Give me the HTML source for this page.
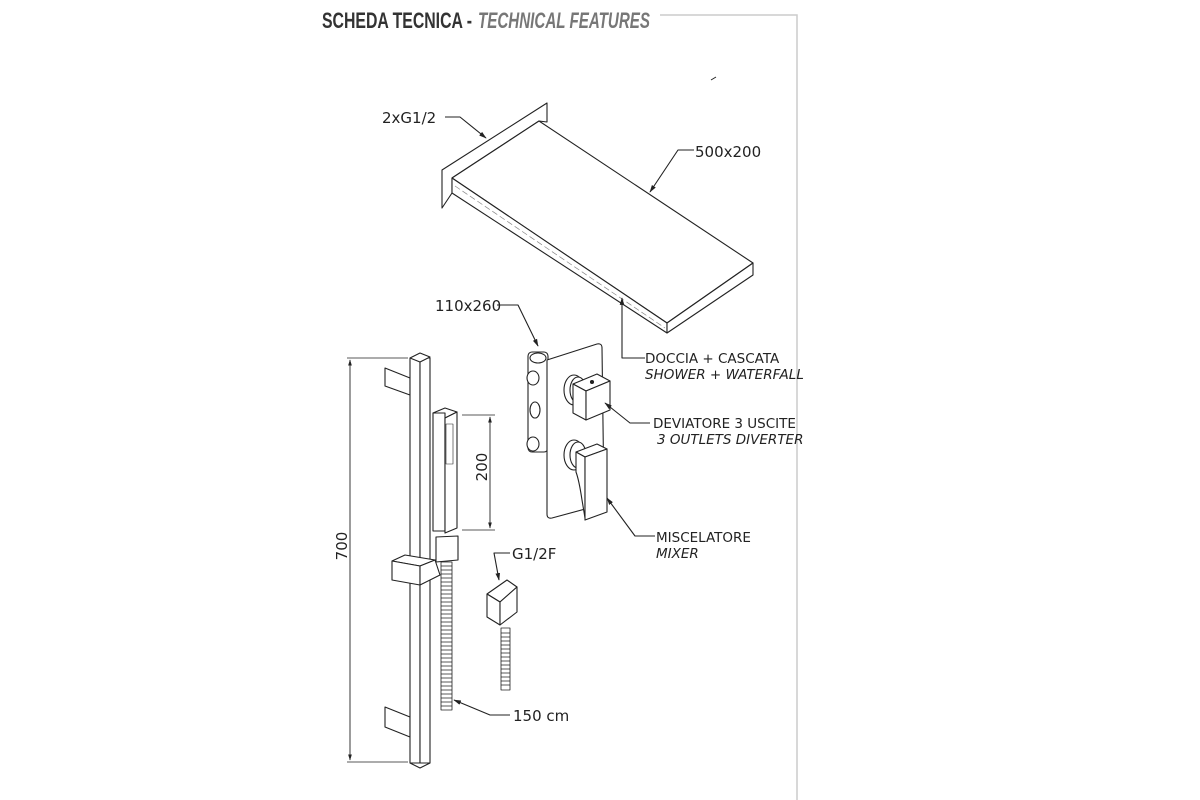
<!DOCTYPE html>
<html><head><meta charset="utf-8"><style>
html,body{margin:0;padding:0;background:#fff;width:1200px;height:800px;overflow:hidden}
svg{display:block}
text{font-family:"DejaVu Sans","Liberation Sans",sans-serif;fill:#222}
</style></head><body>
<svg width="1200" height="800" viewBox="0 0 1200 800" xmlns="http://www.w3.org/2000/svg">
<defs><marker id="a" viewBox="0 0 10 10" refX="9" refY="5" markerWidth="7" markerHeight="7" orient="auto-start-reverse"><path d="M0,2 L10,5 L0,8 z" fill="#222"/></marker></defs>
<!-- header -->
<text x="322" y="28" style="font-family:'Liberation Sans Narrow','Liberation Sans',sans-serif;font-weight:bold;font-size:22px;fill:#333" textLength="150" lengthAdjust="spacingAndGlyphs">SCHEDA TECNICA -</text>
<text x="478" y="28" style="font-family:'Liberation Sans Narrow','Liberation Sans',sans-serif;font-weight:bold;font-style:italic;font-size:22px;fill:#777" textLength="172" lengthAdjust="spacingAndGlyphs">TECHNICAL FEATURES</text>
<polyline points="660,15 797,15 797,800" fill="none" stroke="#ccc" stroke-width="1.5"/>
<g fill="none" stroke="#222" stroke-width="1.1" stroke-linejoin="round">
<!-- waterfall -->
<polygon points="442,170 547,103 547,122 539,121 452,178 452,193 442,208" fill="#fff"/>
<polygon points="452,178 539,121 753,263 667,323" fill="#fff"/>
<polygon points="452,178 667,323 667,333 452,193" fill="#fff"/>
<polygon points="667,323 753,263 753,275 667,333" fill="#fff"/>
<line x1="455" y1="186" x2="665" y2="328" stroke="#888" stroke-dasharray="6,3" stroke-width="0.7"/>
<line x1="711" y1="80" x2="716" y2="77" stroke-width="1"/>
<!-- leaders top -->
<polyline points="445,117 460,117 486,138" marker-end="url(#a)"/>
<polyline points="694,150 678,150 650,192" marker-end="url(#a)"/>
<polyline points="497,305 518,305 538,346" marker-end="url(#a)"/>
<polyline points="645,358 622,358 622,298" marker-end="url(#a)"/>
<!-- mixer valve body -->
<rect x="528" y="352" width="20" height="100" rx="4" fill="#fff"/>
<ellipse cx="538" cy="358" rx="8" ry="5" fill="#fff"/>
<ellipse cx="533" cy="378" rx="6" ry="7" fill="#fff"/>
<ellipse cx="533" cy="444" rx="6" ry="7" fill="#fff"/>
<ellipse cx="535" cy="410" rx="5" ry="8" fill="#fff"/>
<path d="M547,360 L597,344 Q602,343 602,348 L604,500 Q604,504 600,505 L552,518 Q547,519 547,514 Z" fill="#fff"/>
<ellipse cx="574" cy="390" rx="10" ry="15" fill="#fff"/>
<ellipse cx="578" cy="390" rx="8" ry="13" fill="#fff"/>
<polygon points="573,384 597,374 610,381 586,391" fill="#fff"/>
<polygon points="573,384 586,391 586,420 573,413" fill="#fff"/>
<polygon points="586,391 610,381 610,410 586,420" fill="#fff"/>
<circle cx="592" cy="382" r="1.5" fill="#222"/>
<ellipse cx="574" cy="455" rx="10" ry="15" fill="#fff"/>
<ellipse cx="578" cy="455" rx="8" ry="13" fill="#fff"/>
<path d="M576,452 L597,444 L607,449 L585,457 Z" fill="#fff"/>
<path d="M576,452 L585,457 L585,518 L582,500 Q579,480 576,472 Z" fill="#fff"/>
<path d="M585,457 L607,449 L607,512 L585,520 Z" fill="#fff"/>
<polyline points="650,423 630,423 605,403" marker-end="url(#a)"/>
<polyline points="655,536 635,536 607,498" marker-end="url(#a)"/>
<!-- slide bar -->
<polygon points="385,368 410,378 410,395 385,386" fill="#fff"/>
<polygon points="385,707 410,717 410,737 385,727" fill="#fff"/>
<rect x="410" y="358" width="10" height="405" fill="#fff"/>
<rect x="420" y="358" width="10" height="405" fill="#fff"/>
<polygon points="410,358 420,353 430,357 420,362" fill="#fff"/>
<polygon points="410,763 420,768 430,763" fill="#fff"/>
<polygon points="392,561 405,555 435,560 420,566" fill="#fff"/>
<polygon points="392,561 420,566 420,585 392,580" fill="#fff"/>
<polygon points="420,566 435,560 440,575 420,585" fill="#fff"/>
<!-- hand shower -->
<polygon points="433,413 445,408 457,412 445,418" fill="#fff"/>
<rect x="433" y="413" width="12" height="118" fill="#fff"/>
<polygon points="445,418 457,412 457,528 445,533" fill="#fff"/>
<rect x="446" y="424" width="7" height="40" stroke-width="0.6"/>
<path d="M436,537 L458,536 L458,560 L436,562 Z" fill="#fff"/>
<rect x="441" y="562" width="11" height="148" stroke-width="0.8" fill="#fff"/>
<path d="M441,566 h11 M441,570 h11 M441,574 h11 M441,578 h11 M441,582 h11 M441,586 h11 M441,590 h11 M441,594 h11 M441,598 h11 M441,602 h11 M441,606 h11 M441,610 h11 M441,614 h11 M441,618 h11 M441,622 h11 M441,626 h11 M441,630 h11 M441,634 h11 M441,638 h11 M441,642 h11 M441,646 h11 M441,650 h11 M441,654 h11 M441,658 h11 M441,662 h11 M441,666 h11 M441,670 h11 M441,674 h11 M441,678 h11 M441,682 h11 M441,686 h11 M441,690 h11 M441,694 h11 M441,698 h11 M441,702 h11 M441,706 h11" stroke-width="0.7"/>
<!-- wall elbow -->
<polygon points="487,594 507,580 517,587 500,602" fill="#fff"/>
<polygon points="487,594 500,602 500,625 487,617" fill="#fff"/>
<polygon points="500,602 517,587 517,612 500,625" fill="#fff"/>
<rect x="501" y="628" width="9" height="62" stroke-width="0.8" fill="#fff"/>
<path d="M501,633 h9 M501,637 h9 M501,641 h9 M501,645 h9 M501,649 h9 M501,653 h9 M501,657 h9 M501,661 h9 M501,665 h9 M501,669 h9 M501,673 h9 M501,677 h9 M501,681 h9 M501,685 h9" stroke-width="0.7"/>
<!-- dims -->
<line x1="347" y1="358" x2="408" y2="358" stroke-width="0.8"/>
<line x1="347" y1="762" x2="408" y2="762" stroke-width="0.8"/>
<line x1="350" y1="360" x2="350" y2="760" stroke-width="0.9" marker-start="url(#a)" marker-end="url(#a)"/>
<line x1="462" y1="415" x2="495" y2="415" stroke-width="0.8"/>
<line x1="462" y1="530" x2="495" y2="530" stroke-width="0.8"/>
<line x1="490" y1="417" x2="490" y2="528" stroke-width="0.9" marker-start="url(#a)" marker-end="url(#a)"/>
<polyline points="510,553 494,553 499,580" marker-end="url(#a)"/>
<polyline points="510,715 490,715 454,700" marker-end="url(#a)"/>
</g>
<!-- labels -->
<text x="382" y="123" font-size="15">2xG1/2</text>
<text x="695" y="157" font-size="15">500x200</text>
<text x="435" y="311" font-size="15">110x260</text>
<text x="645" y="363" font-size="13.5">DOCCIA  + CASCATA</text>
<text x="645" y="379" font-size="13.5" font-style="italic">SHOWER  + WATERFALL</text>
<text x="653" y="428" font-size="13.5">DEVIATORE  3 USCITE</text>
<text x="657" y="444" font-size="13.5" font-style="italic">3 OUTLETS  DIVERTER</text>
<text x="656" y="542" font-size="13.5">MISCELATORE</text>
<text x="656" y="558" font-size="13.5" font-style="italic">MIXER</text>
<text x="512" y="559" font-size="15">G1/2F</text>
<text x="513" y="721" font-size="15">150 cm</text>
<text transform="translate(347,546) rotate(-90)" font-size="15" text-anchor="middle">700</text>
<text transform="translate(487,467) rotate(-90)" font-size="15" text-anchor="middle">200</text>
</svg>
</body></html>
